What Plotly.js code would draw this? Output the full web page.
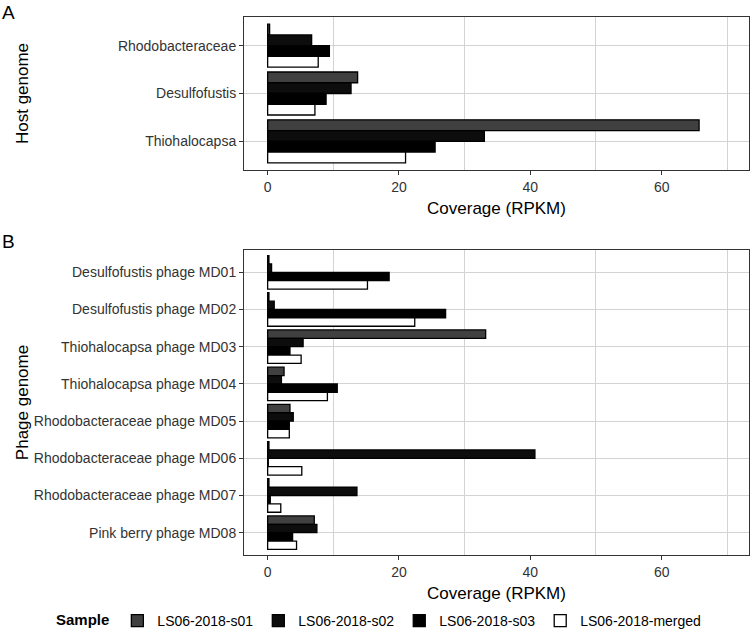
<!DOCTYPE html>
<html><head><meta charset="utf-8">
<script src="https://cdn.plot.ly/plotly-3.0.1.min.js"></script>
<style>html,body{margin:0;padding:0;background:#fff}</style>
</head><body><div id="chart" style="width:750px;height:632px"></div>
<script>
// ---- data ----
const sampleNames = ['LS06-2018-s01', 'LS06-2018-s02', 'LS06-2018-s03', 'LS06-2018-merged'];
const hostGenomes = ['Rhodobacteraceae', 'Desulfofustis', 'Thiohalocapsa'];
const hostS01 = [0.3, 13.7, 65.7];
const hostS02 = [6.7, 12.7, 33.0];
const hostS03 = [9.4, 8.9, 25.5];
const hostMerged = [7.7, 7.2, 21.0];
const phageGenomes = ['Desulfofustis phage MD01', 'Desulfofustis phage MD02', 'Thiohalocapsa phage MD03',
  'Thiohalocapsa phage MD04', 'Rhodobacteraceae phage MD05', 'Rhodobacteraceae phage MD06',
  'Rhodobacteraceae phage MD07', 'Pink berry phage MD08'];
const phageS01 = [0.2, 0.2, 33.2, 2.5, 3.4, 0.2, 0.2, 7.1];
const phageS02 = [0.6, 1.0, 5.4, 2.1, 3.9, 40.7, 13.6, 7.5];
const phageS03 = [18.5, 27.1, 3.4, 10.6, 3.3, 0.1, 0.4, 3.8];
const phageMerged = [15.2, 22.4, 5.1, 9.1, 3.3, 5.2, 2.0, 4.4];

// ---- styles ----
const fills = ['#404040', '#0d0d0d', '#000000', '#ffffff'];
const hostSeries = [hostS01, hostS02, hostS03, hostMerged];
const phageSeries = [phageS01, phageS02, phageS03, phageMerged];
const FONT = '"Liberation Sans", Arial, Helvetica, sans-serif';

const traces = [];
sampleNames.forEach((name, i) => {
  traces.push({
    type: 'bar', orientation: 'h', name: name, legendgroup: name,
    x: hostSeries[i], y: hostGenomes, xaxis: 'x', yaxis: 'y',
    marker: {color: fills[i], line: {color: '#000', width: 1.3}},
    hoverinfo: 'x+y+name'
  });
  traces.push({
    type: 'bar', orientation: 'h', name: name, legendgroup: name, showlegend: false,
    x: phageSeries[i], y: phageGenomes, xaxis: 'x2', yaxis: 'y2',
    marker: {color: fills[i], line: {color: '#000', width: 1.3}},
    hoverinfo: 'x+y+name'
  });
});

const W = 750, H = 632;
const xDom = [244 / W, 749 / W];
const xRange = [-3.6, 73.3];
function xAxis(anchor) {
  return {
    domain: xDom, anchor: anchor, range: xRange, tickmode: 'linear', tick0: 0, dtick: 20,
    showgrid: false, zeroline: false,
    minor: {dtick: 10, tick0: 0, showgrid: true, gridcolor: '#d3d3d3', gridwidth: 1, ticks: ''},
    showline: true, mirror: true, linecolor: '#333333', linewidth: 1,
    ticks: 'outside', ticklen: 4, tickcolor: '#333333', tickwidth: 1,
    tickfont: {family: FONT, size: 14, color: '#333333'},
    automargin: true,
    title: {text: 'Coverage (RPKM)', font: {family: FONT, size: 17, color: '#000'}, standoff: 8}
  };
}
function yAxis(anchor, cats, dom, title, standoff) {
  return {
    domain: dom, anchor: anchor, type: 'category', categoryorder: 'array', categoryarray: cats,
    range: [cats.length - 1 + 0.6, -0.6],
    showgrid: true, gridcolor: '#d3d3d3', gridwidth: 1, zeroline: false,
    showline: true, mirror: true, linecolor: '#333333', linewidth: 1,
    ticks: 'outside', ticklen: 4, tickcolor: '#333333', tickwidth: 1,
    tickfont: {family: FONT, size: 14, color: '#333333'},
    automargin: true,
    title: {text: title, font: {family: FONT, size: 17, color: '#000'}, standoff: standoff}
  };
}

const layout = {
  width: W, height: H,
  margin: {l: 0, r: 0, t: 0, b: 0, autoexpand: false},
  paper_bgcolor: '#fff', plot_bgcolor: '#fff',
  font: {family: FONT},
  barmode: 'group', bargap: 0.1, bargroupgap: 0,
  xaxis: xAxis('y'),
  yaxis: yAxis('x', hostGenomes, [1 - 170 / H, 1 - 17 / H], 'Host genome', 84),
  xaxis2: xAxis('y2'),
  yaxis2: yAxis('x2', phageGenomes, [1 - 555 / H, 1 - 250 / H], 'Phage genome', 0),
  showlegend: true,
  legend: {
    orientation: 'h', x: 54 / W, xanchor: 'left', y: 1 - 621 / H, yanchor: 'middle',
    font: {family: FONT, size: 14, color: '#000'},
    title: {text: '<b>Sample</b>', side: 'left', font: {family: FONT, size: 15, color: '#000'}},
    bgcolor: 'rgba(0,0,0,0)', traceorder: 'normal'
  },
  annotations: [
    {text: 'A', xref: 'paper', yref: 'paper', x: 0, y: 1, xanchor: 'left', yanchor: 'top',
     showarrow: false, font: {family: FONT, size: 19, color: '#000'}},
    {text: 'B', xref: 'paper', yref: 'paper', x: 0, y: 1 - 229 / H, xanchor: 'left', yanchor: 'top',
     showarrow: false, font: {family: FONT, size: 19, color: '#000'}}
  ]
};

Plotly.newPlot('chart', traces, layout, {displayModeBar: false, staticPlot: true});
</script>
</body></html>
